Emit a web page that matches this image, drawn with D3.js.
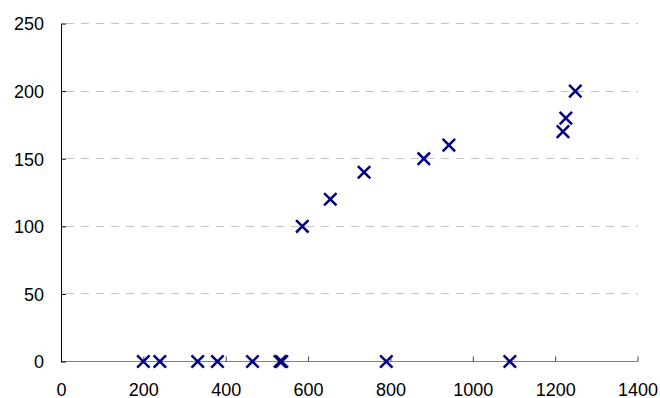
<!DOCTYPE html>
<html>
<head>
<meta charset="utf-8">
<script src="https://cdn.jsdelivr.net/npm/d3@7"></script>
<style>
html,body{margin:0;padding:0;background:#fff;}
svg text{font-family:"Liberation Sans",Arial,sans-serif;font-size:18px;fill:#000;}
</style>
</head>
<body>
<svg id="chart" width="660" height="398"></svg>
<script>
const xValues = [200, 240, 332, 380, 465, 532, 536, 586, 654, 736, 790, 881, 942, 1090, 1219, 1226, 1249];
const yValues = [0, 0, 0, 0, 0, 0, 0, 100, 120, 140, 0, 150, 160, 0, 170, 180, 200];
const xTicks = [0, 200, 400, 600, 800, 1000, 1200, 1400];
const yTicks = [0, 50, 100, 150, 200, 250];

const svg = d3.select("#chart");
const mLeft = 61, mRight = 637.5, mTop = 23.5, mBottom = 361.5;
const x = d3.scaleLinear().domain([0, 1400]).range([mLeft, mRight]);
const y = d3.scaleLinear().domain([0, 250]).range([mBottom, mTop]);

// gridlines
svg.append("g").selectAll("line").data(yTicks.filter(d => d > 0)).join("line")
  .attr("x1", mLeft + 5).attr("x2", mRight).attr("y1", d => y(d)).attr("y2", d => y(d))
  .attr("stroke", "#c4c4c4").attr("stroke-width", 1).attr("stroke-dasharray", "8,7")
  .attr("shape-rendering", "crispEdges");

// x axis
const xAxis = svg.append("g").attr("transform", `translate(0,${mBottom})`)
  .call(d3.axisBottom(x).tickValues(xTicks).tickSize(-5).tickPadding(0).tickFormat(d3.format("d")));
xAxis.select(".domain").attr("stroke", "#808080").attr("d", `M${mLeft},0H${mRight}`);
xAxis.selectAll(".tick line").attr("stroke", "#404040");
xAxis.selectAll(".tick text").attr("y", 34).attr("dy", 0).style("font-size", "18px")
  .style("font-family", '"Liberation Sans",Arial,sans-serif');

// y axis
const yAxis = svg.append("g").attr("transform", `translate(${mLeft},0)`)
  .call(d3.axisLeft(y).tickValues(yTicks).tickSize(-5).tickPadding(0).tickFormat(d3.format("d")));
yAxis.select(".domain").attr("stroke", "#000").attr("d", `M0,${mTop}V${mBottom}`);
yAxis.selectAll(".tick line").attr("stroke", "#000");
yAxis.selectAll(".tick text").attr("x", -17).attr("dy", "0.35em").style("font-size", "18px")
  .style("font-family", '"Liberation Sans",Arial,sans-serif');
svg.selectAll(".domain").attr("shape-rendering", "crispEdges");

// markers
const pts = xValues.map((v, i) => ({x: v, y: yValues[i]}));
const s = 6.2;
svg.append("g").selectAll("path").data(pts).join("path")
  .attr("d", d => {
    const cx = x(d.x), cy = y(d.y);
    return `M${cx - s},${cy - s}L${cx + s},${cy + s}M${cx - s},${cy + s}L${cx + s},${cy - s}`;
  })
  .attr("stroke", "#000080").attr("stroke-width", 2.5).attr("fill", "none");
</script>
</body>
</html>
